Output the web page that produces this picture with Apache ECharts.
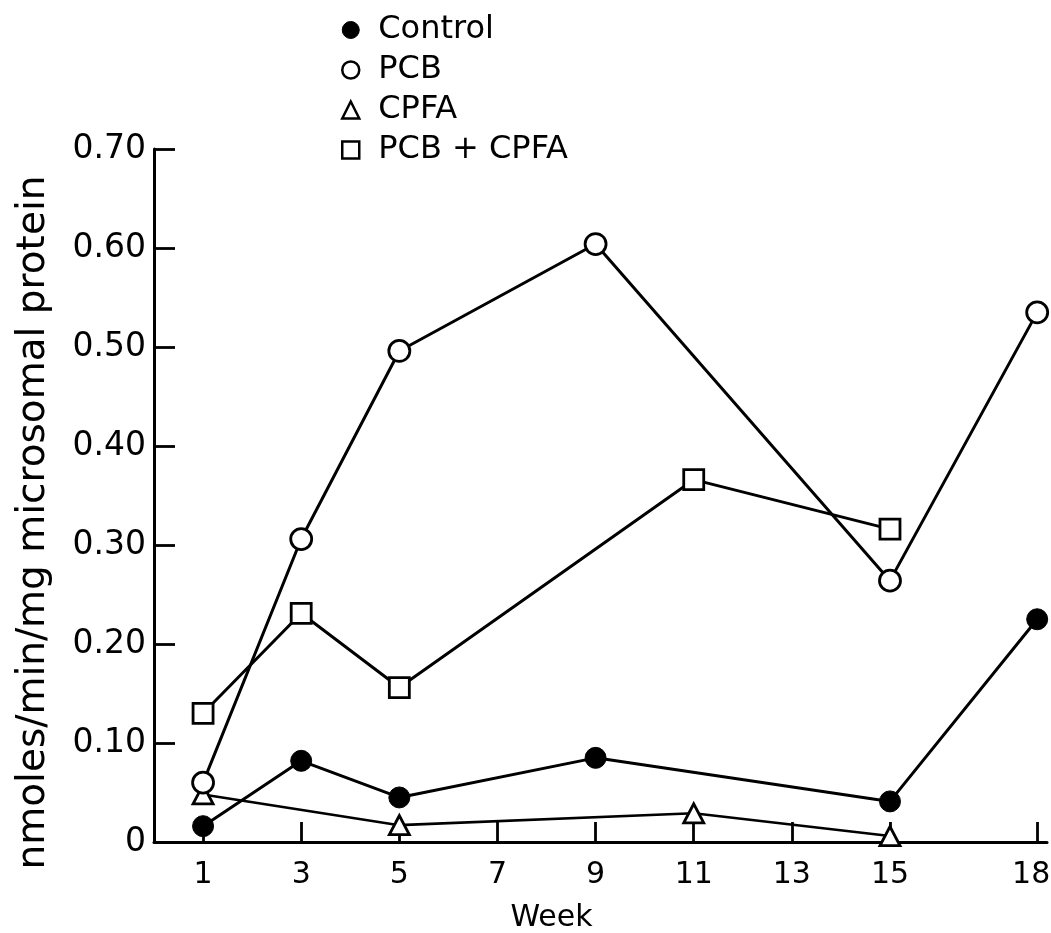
<!DOCTYPE html>
<html>
<head>
<meta charset="utf-8">
<style>
  html, body { margin: 0; padding: 0; background: #fff; }
  #chart { width: 1051px; height: 933px; }
</style>
<script src="https://cdn.jsdelivr.net/npm/echarts@6/dist/echarts.min.js"></script>
</head>
<body>
<div id="chart"></div>
<script>
// Weeks sampled and enzyme activity (nmoles/min/mg microsomal protein) per group
const controlWeeks = [1, 3, 5, 9, 15, 18];
const controlValues = [0.016, 0.082, 0.045, 0.085, 0.041, 0.225];

const pcbWeeks = [1, 3, 5, 9, 15, 18];
const pcbValues = [0.060, 0.306, 0.496, 0.604, 0.264, 0.535];

const cpfaWeeks = [1, 5, 11, 15];
const cpfaValues = [0.048, 0.017, 0.029, 0.006];

const comboWeeks = [1, 3, 5, 11, 15];
const comboValues = [0.130, 0.231, 0.156, 0.366, 0.316];

const xTickWeeks = [1, 3, 5, 7, 9, 11, 13, 15, 18];
const yTickLabels = ['0', '0.10', '0.20', '0.30', '0.40', '0.50', '0.60', '0.70'];

const seriesNames = ['Control', 'PCB', 'CPFA', 'PCB + CPFA'];

const FONT = 'DejaVu Sans';
const INK = '#000';

function pairs(xs, ys) {
  return xs.map((x, i) => [x, ys[i]]);
}

const openStyle = { color: '#fff', borderColor: INK, borderWidth: 2.8 };
const filledStyle = { color: INK, borderColor: INK, borderWidth: 1 };

const lastWeek = xTickWeeks[xTickWeeks.length - 1];

const chart = echarts.init(document.getElementById('chart'), null, { renderer: 'canvas' });

chart.setOption({
  backgroundColor: '#fff',
  animation: false,
  grid: {
    left: 154, right: 4, top: 149, bottom: 91,
    containLabel: false,
    outerBoundsMode: 'none'
  },
  legend: {
    orient: 'vertical',
    left: 336,
    top: 7,
    itemWidth: 17,
    itemHeight: 17,
    itemGap: 4,
    selectedMode: false,
    textStyle: {
      fontFamily: FONT,
      fontSize: 32,
      color: INK,
      lineHeight: 36,
      padding: [0, 0, 0, 14]
    },
    data: [
      { name: seriesNames[0], icon: 'circle', itemStyle: filledStyle },
      { name: seriesNames[1], icon: 'circle', itemStyle: { color: '#fff', borderColor: INK, borderWidth: 2.5 } },
      { name: seriesNames[2], icon: 'triangle', itemStyle: { color: '#fff', borderColor: INK, borderWidth: 2.5 } },
      { name: seriesNames[3], icon: 'rect', itemStyle: { color: '#fff', borderColor: INK, borderWidth: 2.5 } }
    ]
  },
  xAxis: {
    type: 'value',
    min: 0,
    max: 18.2,
    name: 'Week',
    nameLocation: 'middle',
    nameGap: 61,
    nameTextStyle: {
      fontFamily: FONT,
      fontSize: 30,
      color: INK,
      padding: [0, 98, 0, 0]
    },
    axisLine: { show: true, lineStyle: { color: INK, width: 3 } },
    axisTick: {
      show: true,
      inside: true,
      length: 20,
      customValues: xTickWeeks,
      lineStyle: { color: INK, width: 2.8 }
    },
    axisLabel: {
      show: true,
      customValues: xTickWeeks,
      margin: 18,
      fontFamily: FONT,
      fontSize: 30,
      color: INK,
      // the last label sits at the right edge; nudge it inward
      formatter: (v) => (v === lastWeek ? '{edge|' + v + '}' : String(v)),
      rich: {
        edge: {
          fontFamily: FONT,
          fontSize: 30,
          color: INK,
          padding: [0, 12, 0, 0]
        }
      }
    },
    splitLine: { show: false }
  },
  yAxis: {
    type: 'value',
    min: 0,
    max: 0.7,
    interval: 0.1,
    name: 'nmoles/min/mg microsomal protein',
    nameLocation: 'middle',
    nameGap: 101,
    nameTextStyle: {
      fontFamily: FONT,
      fontSize: 39,
      color: INK,
      padding: [0, 54, 0, 0]
    },
    axisLine: { show: true, lineStyle: { color: INK, width: 3 } },
    axisTick: {
      show: true,
      inside: true,
      length: 21,
      lineStyle: { color: INK, width: 2.8 }
    },
    axisLabel: {
      margin: 8,
      fontFamily: FONT,
      fontSize: 33,
      color: INK,
      formatter: (v) => yTickLabels[Math.round(v * 10)]
    },
    splitLine: { show: false }
  },
  series: [
    {
      name: seriesNames[3],
      type: 'line',
      data: pairs(comboWeeks, comboValues),
      symbol: 'rect',
      symbolSize: 20,
      lineStyle: { color: INK, width: 3 },
      itemStyle: openStyle,
      z: 2
    },
    {
      name: seriesNames[2],
      type: 'line',
      data: pairs(cpfaWeeks, cpfaValues),
      symbol: 'triangle',
      symbolSize: [20, 19],
      lineStyle: { color: INK, width: 2.6 },
      itemStyle: openStyle,
      z: 3
    },
    {
      name: seriesNames[0],
      type: 'line',
      data: pairs(controlWeeks, controlValues),
      symbol: 'circle',
      symbolSize: 21,
      lineStyle: { color: INK, width: 3 },
      itemStyle: filledStyle,
      z: 4
    },
    {
      name: seriesNames[1],
      type: 'line',
      data: pairs(pcbWeeks, pcbValues),
      symbol: 'circle',
      symbolSize: 21,
      lineStyle: { color: INK, width: 3 },
      itemStyle: openStyle,
      z: 5
    }
  ]
});
</script>
</body>
</html>
